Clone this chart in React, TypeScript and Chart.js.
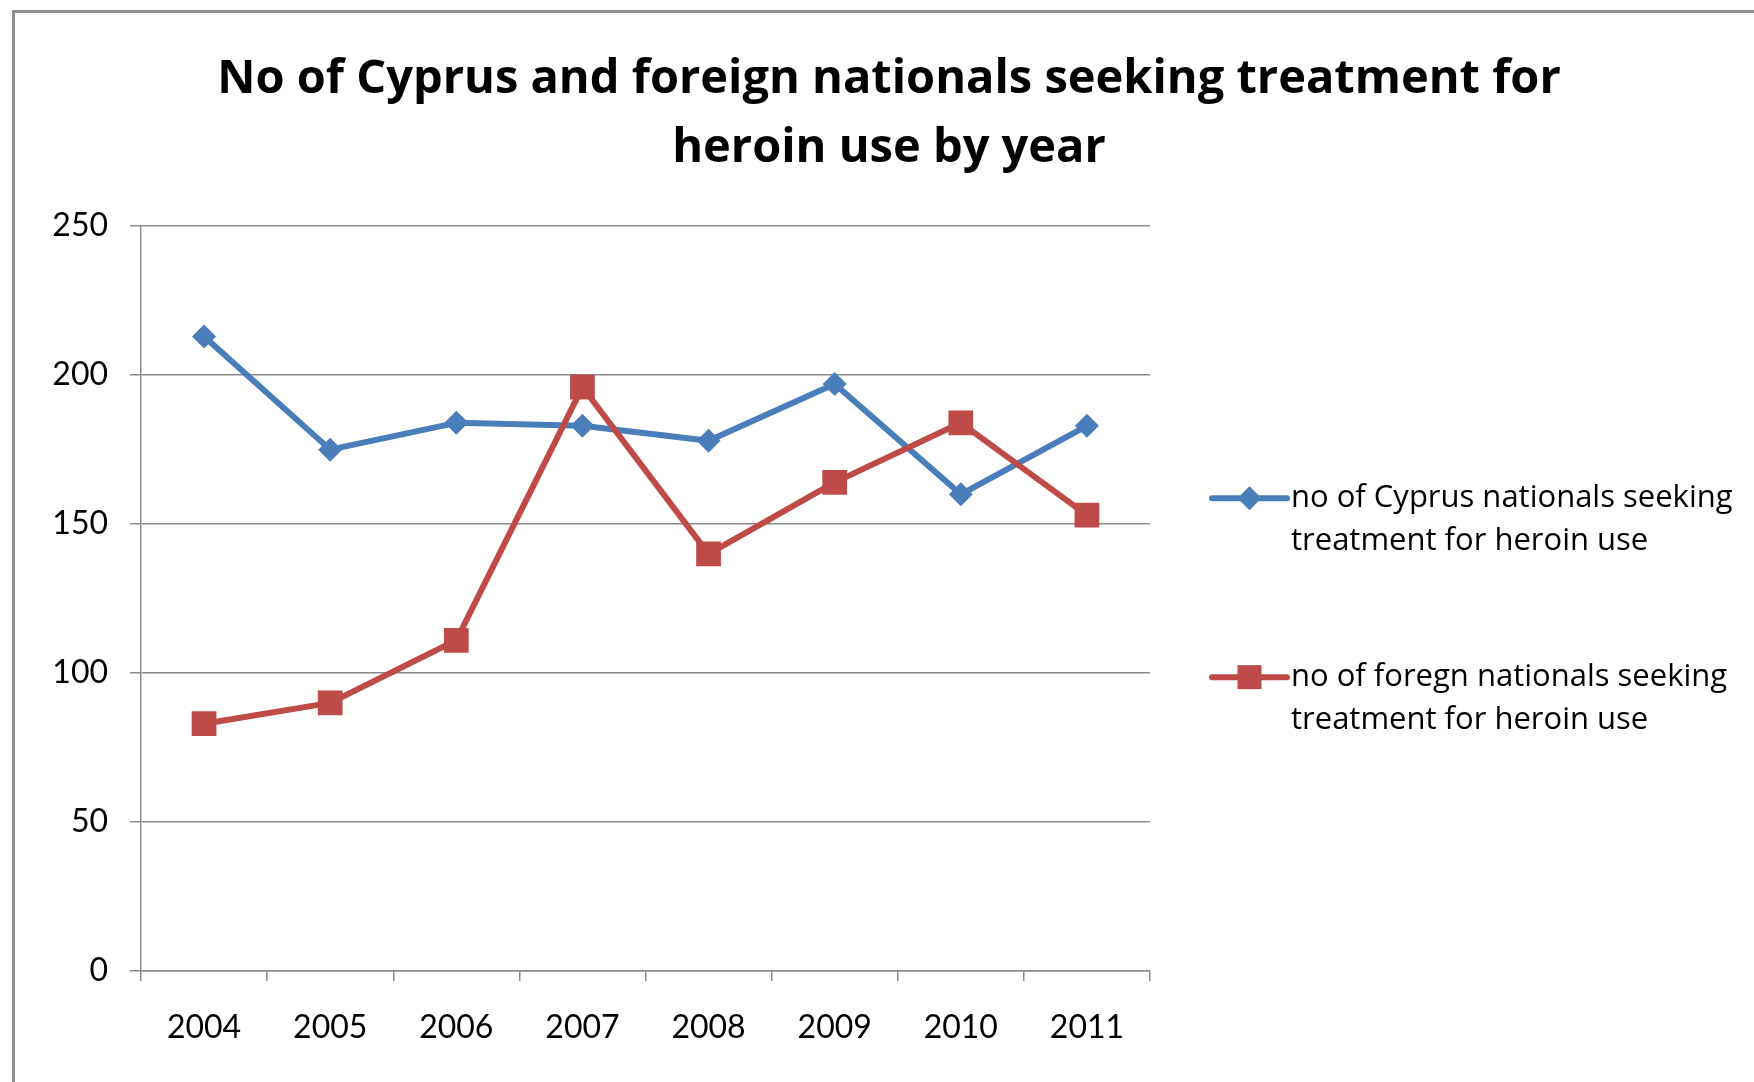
import React, { useEffect, useRef } from 'react';
import { Chart, registerables } from 'chart.js';

Chart.register(...registerables);

const years = ['2004', '2005', '2006', '2007', '2008', '2009', '2010', '2011'];
const cyprusNationals = [213, 175, 184, 183, 178, 197, 160, 183];
const foreignNationals = [83, 90, 111, 196, 140, 164, 184, 153];
const yMin = 0;
const yMax = 250;
const yStep = 50;
const titleLines = ['No of Cyprus and foreign nationals seeking treatment for', 'heroin use by year'];
const cyprusLabel = ['no of Cyprus nationals seeking', 'treatment for heroin use'];
const foreignLabel = ['no of foregn nationals seeking', 'treatment for heroin use'];

const BLUE = '#4A7EBB';
const RED = '#BE4B48';
const GRID = '#8a8a8a';
const FONT = 'Lato, "Open Sans", sans-serif';
const TITLE_FONT = '"Open Sans", Lato, sans-serif';
const W = 1754;
const H = 1082;

const framePlugin = {
  id: 'frame',
  beforeDraw(chart: any) {
    const ctx = chart.ctx;
    ctx.save();
    ctx.fillStyle = '#ffffff';
    ctx.fillRect(0, 0, chart.width, chart.height);
    ctx.strokeStyle = '#8e8e8e';
    ctx.lineWidth = 3;
    ctx.beginPath();
    ctx.moveTo(13.5, chart.height);
    ctx.lineTo(13.5, 11.5);
    ctx.lineTo(chart.width, 11.5);
    ctx.stroke();
    ctx.restore();
  },
};

const legendPlugin = {
  id: 'sideLegend',
  afterDraw(chart: any) {
    const ctx = chart.ctx;
    const area = chart.chartArea;
    const offsets = [272, 451];
    const x0 = area.right + 62;
    ctx.save();
    chart.data.datasets.forEach((ds: any, i: number) => {
      const y = area.top + offsets[i];
      ctx.strokeStyle = ds.borderColor;
      ctx.lineWidth = 6;
      ctx.lineCap = 'round';
      ctx.beginPath();
      ctx.moveTo(x0, y);
      ctx.lineTo(x0 + 75, y);
      ctx.stroke();
      const cx = x0 + 37.5;
      ctx.fillStyle = ds.backgroundColor;
      ctx.beginPath();
      if (ds.pointStyle === 'rectRot') {
        const r = 12;
        ctx.moveTo(cx, y - r);
        ctx.lineTo(cx + r, y);
        ctx.lineTo(cx, y + r);
        ctx.lineTo(cx - r, y);
        ctx.closePath();
      } else {
        ctx.rect(cx - 12, y - 12, 24, 24);
      }
      ctx.fill();
      ctx.fillStyle = '#000000';
      ctx.font = `31px ${TITLE_FONT}`;
      ctx.textBaseline = 'middle';
      ctx.textAlign = 'left';
      const lines: string[] = ds.label;
      lines.forEach((t: string, k: number) => {
        ctx.fillText(t, x0 + 79, y + k * 43);
      });
    });
    ctx.restore();
  },
};

export default function App() {
  const ref = useRef<HTMLCanvasElement | null>(null);

  useEffect(() => {
    if (!ref.current) return;
    const chart = new Chart(ref.current, {
      type: 'line',
      data: {
        labels: years,
        datasets: [
          {
            label: cyprusLabel as any,
            data: cyprusNationals,
            borderColor: BLUE,
            backgroundColor: BLUE,
            borderWidth: 6,
            pointStyle: 'rectRot',
            pointRadius: 12,
            pointHoverRadius: 12,
            pointBorderWidth: 0,
            pointBackgroundColor: BLUE,
            tension: 0,
            borderJoinStyle: 'round',
            order: 1,
          },
          {
            label: foreignLabel as any,
            data: foreignNationals,
            borderColor: RED,
            backgroundColor: RED,
            borderWidth: 6,
            pointStyle: 'rect',
            pointRadius: 17.5,
            pointHoverRadius: 17.5,
            pointBorderWidth: 0,
            pointBackgroundColor: RED,
            tension: 0,
            borderJoinStyle: 'round',
            order: 0,
          },
        ],
      },
      options: {
        responsive: false,
        animation: false,
        devicePixelRatio: 1,
        layout: { padding: { left: 24, right: 0, top: 0, bottom: 0 } },
        plugins: {
          legend: { display: false },
          tooltip: { enabled: false },
          title: {
            display: true,
            text: titleLines,
            color: '#000000',
            font: { family: TITLE_FONT, size: 47, weight: 'bold', lineHeight: 1.47 },
            padding: { top: 45, bottom: 43 },
          },
        },
        scales: {
          x: {
            type: 'category',
            offset: true,
            grid: {
              offset: true,
              drawOnChartArea: false,
              drawTicks: true,
              tickLength: 10,
              color: GRID,
              lineWidth: 1.5,
            },
            border: { display: true, color: GRID, width: 1.5 },
            ticks: {
              color: '#000000',
              font: { family: FONT, size: 32 },
              padding: 27,
              maxRotation: 0,
            },
            afterFit: (s: any) => {
              s.height = 111;
            },
          },
          y: {
            min: yMin,
            max: yMax,
            ticks: {
              stepSize: yStep,
              color: '#000000',
              font: { family: FONT, size: 32 },
              padding: 22,
            },
            grid: {
              color: GRID,
              lineWidth: 1.5,
              tickLength: 11,
              drawTicks: true,
            },
            border: { display: true, color: GRID, width: 1.5 },
            afterFit: (s: any) => {
              s.width = 117;
            },
          },
          reserve: {
            type: 'linear',
            position: 'right',
            display: true,
            grid: { display: false, drawTicks: false },
            border: { display: false },
            ticks: { display: false },
            afterFit: (s: any) => {
              s.width = 604;
            },
          },
        },
      },
      plugins: [framePlugin, legendPlugin],
    });
    return () => chart.destroy();
  }, []);

  return (
    <div style={{ position: 'absolute', left: 0, top: 0, width: W, height: H, background: '#fff' }}>
      <canvas ref={ref} width={W} height={H} style={{ width: W, height: H, display: 'block' }} />
    </div>
  );
}
